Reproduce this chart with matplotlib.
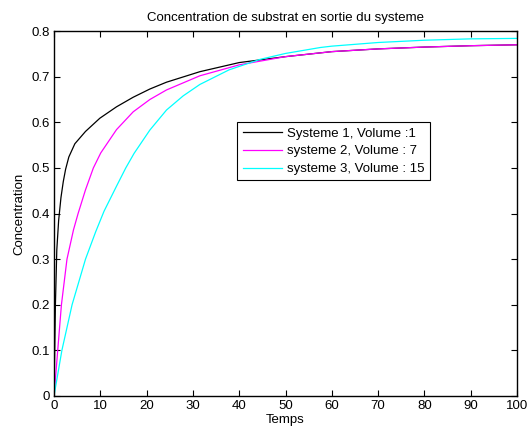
import matplotlib
matplotlib.use('agg')
import matplotlib.pyplot as plt

plt.rcParams['font.family'] = ['Liberation Sans', 'DejaVu Sans']

# values
t1 = [0, 0.3, 0.6, 1.0, 1.5, 2, 2.5, 3.2, 4.5, 6.8, 9.9, 13.5, 17.1, 20.7, 24.3, 31.5, 40, 50, 60, 70, 80, 90, 100]
c1 = [0, 0.2, 0.32, 0.385, 0.435, 0.47, 0.497, 0.524, 0.553, 0.58, 0.609, 0.634, 0.655, 0.673, 0.688, 0.711, 0.731, 0.744, 0.755, 0.761, 0.765, 0.768, 0.77]

t2 = [0, 0.8, 1.6, 2.8, 4.2, 5.2, 6.8, 8.5, 10.1, 13.5, 17.1, 20.7, 24.3, 31.5, 40, 50, 60, 70, 80, 90, 100]
c2 = [0, 0.1, 0.2, 0.3, 0.364, 0.4, 0.452, 0.5, 0.533, 0.584, 0.623, 0.65, 0.671, 0.702, 0.726, 0.744, 0.755, 0.761, 0.765, 0.768, 0.77]

t3 = [0, 1.7, 3.9, 6.8, 9.0, 10.8, 13.5, 15.5, 17.3, 20.7, 24.3, 27.9, 31.5, 37.8, 44.5, 50, 57.5, 60, 70, 80, 90, 100]
c3 = [0, 0.1, 0.2, 0.3, 0.36, 0.405, 0.46, 0.5, 0.532, 0.583, 0.627, 0.658, 0.683, 0.715, 0.738, 0.751, 0.764, 0.767, 0.775, 0.78, 0.783, 0.784]

labels = ['Systeme 1, Volume :1', 'systeme 2, Volume : 7', 'systeme 3, Volume : 15']
colors = ['black', '#ff00ff', '#00ffff']

fig = plt.figure(figsize=(5.27, 4.29), dpi=100)
ax = fig.add_axes([0.1025, 0.077, 0.8785, 0.8505])

for t, c, lab, col in zip([t1, t2, t3], [c1, c2, c3], labels, colors):
    ax.plot(t, c, color=col, lw=0.9, label=lab)

ax.set_xlim(0, 100)
ax.set_ylim(0, 0.8)
ax.set_xticks(range(0, 101, 10))
ax.set_yticks([0, 0.1, 0.2, 0.3, 0.4, 0.5, 0.6, 0.7, 0.8])
ax.set_yticklabels(['0', '0.1', '0.2', '0.3', '0.4', '0.5', '0.6', '0.7', '0.8'])
ax.tick_params(direction='in', top=True, right=True, length=4, width=0.8, labelsize=9.5, pad=3)
for s in ax.spines.values():
    s.set_linewidth(1.0)

ax.set_title('Concentration de substrat en sortie du systeme', fontsize=9.5, pad=7)
ax.set_xlabel('Temps', fontsize=9.5, labelpad=1.5)
ax.set_ylabel('Concentration', fontsize=9.5, labelpad=4)

leg = ax.legend(loc='upper left', bbox_to_anchor=(0.396, 0.75), fontsize=9.5,
                fancybox=False, framealpha=1, edgecolor='black', borderpad=0.4,
                labelspacing=0.41, handlelength=2.95, handletextpad=0.4, borderaxespad=0)
leg.get_frame().set_linewidth(0.8)

plt.savefig('out.png', dpi=100)
